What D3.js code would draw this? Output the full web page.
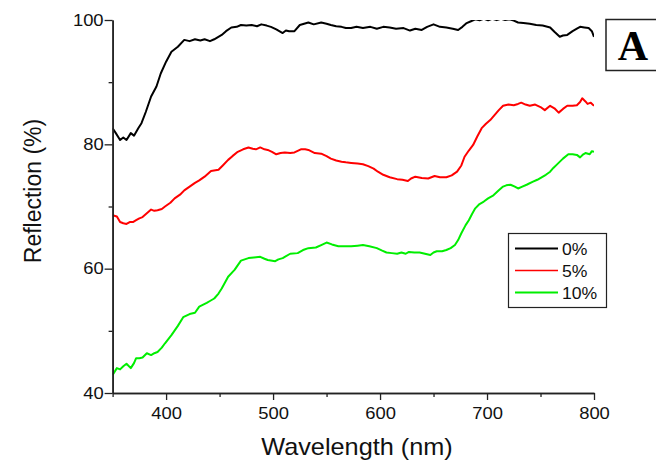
<!DOCTYPE html>
<html>
<head>
<meta charset="utf-8">
<script src="https://cdn.jsdelivr.net/npm/d3@7"></script>
<style>
  body { margin: 0; background: #fff; }
  svg { font-family: "Liberation Sans", Arial, sans-serif; }
</style>
</head>
<body>
<svg width="656" height="461"></svg>
<script>
// series (wavelength nm, reflection %)
const wl0 = [350,353,357,360,363,367,370,374,377,381,386,391,395,400,405,411,417,422,427,432,436,441,445,452,456,461,466,470,475,480,485,489,494,498,503,509,512,515,520,525,529,533,538,545,550,554,559,564,568,573,578,584,591,597,603,609,615,622,628,633,639,644,650,656,662,668,673,677,681,685,689,693,697,701,705,709,713,717,721,725,729,734,740,746,752,759,763,768,771,775,780,784,787,791,795,798,800]
const r0 = [82.6,81.8,80.7,81.1,80.7,81.8,81.4,82.6,83.4,85.2,87.7,89.3,91.4,93.3,94.9,95.7,96.8,96.6,96.9,96.7,96.9,96.6,96.9,97.6,98.2,98.8,98.9,99.2,99.1,99.2,99.0,99.3,99.1,98.9,98.5,97.9,98.3,98.2,98.2,99.2,99.4,99.6,99.3,99.6,99.4,99.2,99.0,98.9,98.7,98.7,98.9,98.7,98.9,98.6,98.9,98.8,98.6,98.7,98.3,98.6,98.4,98.9,99.3,98.9,98.8,98.6,98.4,98.9,99.5,99.8,100.1,99.96,100.2,99.97,100.2,99.98,100.2,100.0,100.1,99.9,99.6,99.5,99.4,99.2,99.1,98.8,98.1,97.3,97.5,97.6,98.2,98.6,98.9,98.8,98.7,98.2,97.3]

const wl5 = [350,354,357,360,363,366,369,372,375,378,382,386,389,392,396,399,404,408,413,417,422,427,431,436,442,449,453,458,462,467,472,477,481,484,488,492,495,499,503,507,511,516,520,526,530,533,539,545,550,554,559,564,568,573,579,584,589,594,598,603,609,616,621,626,629,633,639,645,651,656,662,667,672,676,679,683,687,691,695,699,703,707,711,715,720,725,729,732,736,740,745,750,754,759,763,767,771,775,780,784,787,789,792,794,797,800]
const r5 = [68.6,68.4,67.5,67.3,67.2,67.5,67.5,67.8,68.1,68.3,68.9,69.5,69.3,69.4,69.6,70.0,70.6,71.3,71.9,72.6,73.2,73.8,74.2,74.8,75.7,75.9,76.6,77.5,78.1,78.8,79.2,79.5,79.3,79.2,79.5,79.2,79.1,78.8,78.4,78.6,78.7,78.6,78.7,79.2,79.2,79.1,78.6,78.5,78.1,77.7,77.4,77.2,77.1,77.0,76.9,76.8,76.5,76.1,75.6,75.1,74.7,74.4,74.3,74.1,74.5,74.8,74.6,74.5,74.9,74.7,74.7,75.0,75.6,76.6,78.0,79.0,79.9,81.3,82.6,83.3,83.9,84.7,85.5,86.2,86.4,86.3,86.5,86.7,86.4,86.2,86.4,86.0,85.5,86.2,85.8,85.1,85.7,86.2,86.2,86.3,86.8,87.4,86.9,86.5,86.7,86.2]

const wl10 = [350,354,357,360,363,367,370,372,375,378,382,386,389,392,396,399,405,411,416,422,427,431,438,441,445,449,452,458,464,470,477,482,488,492,495,502,505,509,516,523,528,533,540,545,550,555,561,567,573,579,584,590,597,602,606,611,616,620,624,627,632,637,642,647,650,653,658,662,666,670,673,676,680,683,686,689,693,697,701,706,711,715,718,722,726,729,733,737,743,747,751,755,759,762,765,771,776,780,784,787,790,792,796,798,800]
const r10 = [42.9,44.0,43.8,44.3,44.7,44.0,44.8,45.6,45.6,45.7,46.4,46.1,46.4,46.6,47.3,48.0,49.3,50.8,52.2,52.7,52.9,53.9,54.5,54.8,55.2,56.0,56.8,58.7,59.8,61.3,61.7,61.8,61.9,61.6,61.4,61.2,61.5,61.7,62.4,62.5,63.0,63.3,63.4,63.8,64.2,63.9,63.6,63.6,63.6,63.7,63.8,63.6,63.3,62.9,62.6,62.5,62.4,62.6,62.4,62.7,62.6,62.6,62.4,62.2,62.6,62.8,62.8,63.0,63.3,63.8,64.6,65.7,67.0,67.8,68.8,69.7,70.4,70.8,71.3,71.8,72.6,73.2,73.4,73.5,73.2,72.9,73.2,73.5,74.0,74.3,74.7,75.1,75.6,76.2,76.7,77.7,78.4,78.4,78.3,77.9,78.4,78.6,78.4,78.9,78.8]

const seriesNames = ["0%", "5%", "10%"]
const seriesColors = ["#000000", "#ff0000", "#00ee00"]
const xMajor = [400, 500, 600, 700, 800]
const xMinor = [350, 450, 550, 650, 750]
const yMajor = [40, 60, 80, 100]
const yMinor = [50, 70, 90]

const svg = d3.select("svg")
const plotLeft = 112.6, plotRight = 594, plotTop = 20, plotBottom = 393
const stretch = 1.15 // the original figure is a bit wider than tall

const x = d3.scaleLinear().domain([350, 800]).range([plotLeft, plotRight])
const y = d3.scaleLinear().domain([40, 100]).range([plotBottom, plotTop])

svg.append("defs").append("clipPath").attr("id", "plotclip")
  .append("rect")
  .attr("x", plotLeft).attr("y", plotTop)
  .attr("width", plotRight - plotLeft).attr("height", plotBottom - plotTop)

const series = [
  d3.zip(wl0, r0),
  d3.zip(wl5, r5),
  d3.zip(wl10, r10)
]

const line = d3.line()
  .x(d => x(d[0]))
  .y(d => y(d[1]))

const g = svg.append("g").attr("clip-path", "url(#plotclip)")
series.forEach(function(s, i) {
  g.append("path")
    .datum(s)
    .attr("d", line)
    .attr("fill", "none")
    .attr("stroke", seriesColors[i])
    .attr("stroke-width", 2)
    .attr("stroke-linejoin", "round")
})

// axes
function styleAxis(sel) {
  sel.select(".domain").attr("stroke", "#222").attr("stroke-width", 1.5)
  sel.selectAll(".tick line").attr("stroke", "#222").attr("stroke-width", 1.3)
  sel.selectAll("text")
    .attr("font-size", "16px")
    .attr("fill", "#111")
    .attr("font-family", "Liberation Sans, Arial, sans-serif")
}

const xAxis = svg.append("g")
  .attr("transform", `translate(0, ${plotBottom})`)
  .call(d3.axisBottom(x).tickValues(xMajor).tickSize(7).tickSizeOuter(0).tickPadding(8).tickFormat(d3.format("d")))
styleAxis(xAxis)
xAxis.selectAll("text").attr("transform", `scale(${stretch},1)`)

const xAxisMinor = svg.append("g")
  .attr("transform", `translate(0, ${plotBottom})`)
  .call(d3.axisBottom(x).tickValues(xMinor).tickSize(4).tickSizeOuter(0).tickFormat(""))
styleAxis(xAxisMinor)

const yAxis = svg.append("g")
  .attr("transform", `translate(${plotLeft}, 0)`)
  .call(d3.axisLeft(y).tickValues(yMajor).tickSize(8).tickSizeOuter(0).tickPadding(1).tickFormat(d3.format("d")))
styleAxis(yAxis)
yAxis.selectAll("text")
  .attr("x", -9 / stretch)
  .attr("transform", `scale(${stretch},1)`)

const yAxisMinor = svg.append("g")
  .attr("transform", `translate(${plotLeft}, 0)`)
  .call(d3.axisLeft(y).tickValues(yMinor).tickSize(4).tickSizeOuter(0).tickFormat(""))
styleAxis(yAxisMinor)

// titles
svg.append("text")
  .attr("transform", "translate(357, 455) scale(1.1,1)")
  .attr("text-anchor", "middle")
  .attr("font-size", "23px")
  .attr("fill", "#111")
  .text("Wavelength (nm)")

svg.append("text")
  .attr("transform", "translate(41, 191) rotate(-90) scale(1,1.08)")
  .attr("text-anchor", "middle")
  .attr("font-size", "23px")
  .attr("fill", "#111")
  .text("Reflection (%)")

// legend
const legend = svg.append("g")
legend.append("rect")
  .attr("x", 508.5).attr("y", 233.5)
  .attr("width", 98).attr("height", 74)
  .attr("fill", "#fff")
  .attr("stroke", "#222")
  .attr("stroke-width", 1.2)

seriesNames.forEach(function(name, i) {
  let ly = 248.5 + i * 22
  legend.append("line")
    .attr("x1", 515).attr("x2", 558)
    .attr("y1", ly).attr("y2", ly)
    .attr("stroke", seriesColors[i])
    .attr("stroke-width", i == 1 ? 1.5 : 2)
  legend.append("text")
    .attr("transform", `translate(562, ${ly + 6}) scale(1.1,1)`)
    .attr("font-size", "16px")
    .attr("fill", "#111")
    .text(name)
})

// panel label
svg.append("rect")
  .attr("x", 606).attr("y", 19.5)
  .attr("width", 52).attr("height", 51)
  .attr("fill", "#fff")
  .attr("stroke", "#222")
  .attr("stroke-width", 1.5)

svg.append("text")
  .attr("x", 633)
  .attr("y", 60)
  .attr("text-anchor", "middle")
  .attr("font-family", "Liberation Serif, Times New Roman, serif")
  .attr("font-weight", "bold")
  .attr("font-size", "42px")
  .attr("fill", "#000")
  .text("A")
</script>
</body>
</html>
